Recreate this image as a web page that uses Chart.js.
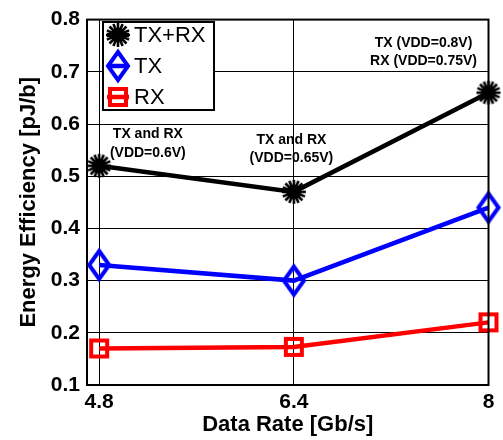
<!DOCTYPE html>
<html>
<head>
<meta charset="utf-8">
<script src="https://cdn.jsdelivr.net/npm/chart.js@4/dist/chart.umd.min.js"></script>
<style>
  html, body { margin: 0; padding: 0; background: #fff; }
  #wrap { width: 503px; height: 440px; }
</style>
</head>
<body>
<div id="wrap"><canvas id="c" width="503" height="440"></canvas></div>
<script>
// Data rates [Gb/s] and energy efficiency [pJ/b]
const dataRates = [4.8, 6.4, 8];
const txrx = [0.52, 0.47, 0.66];
const tx = [0.33, 0.30, 0.44];
const rx = [0.17, 0.173, 0.22];
const seriesNames = ['TX+RX', 'TX', 'RX'];
const xTickValues = [4.8, 6.4, 8];
const xTickLabels = ['4.8', '6.4', '8'];

// Operating-point notes: [x, y, lines]
const notes = [
  [5.2, 0.562, ['TX and RX', '(VDD=0.6V)']],
  [6.38, 0.552, ['TX and RX', '(VDD=0.65V)']],
  [7.466, 0.738, ['TX (VDD=0.8V)', 'RX (VDD=0.75V)']]
];

const FONT = '"Liberation Sans", Arial, Helvetica, sans-serif';

// Hollow / asterisk markers drawn once on small canvases
function makeStar(color) {
  const c = document.createElement('canvas');
  c.width = 28; c.height = 28;
  const g = c.getContext('2d');
  g.translate(14, 14);
  g.strokeStyle = color; g.fillStyle = color;
  g.lineWidth = 2.6; g.lineCap = 'butt';
  for (let i = 0; i < 8; i++) {
    const a = i * Math.PI / 8;
    g.beginPath();
    g.moveTo(-12 * Math.cos(a), -12 * Math.sin(a));
    g.lineTo(12 * Math.cos(a), 12 * Math.sin(a));
    g.stroke();
  }
  g.beginPath(); g.arc(0, 0, 7.5, 0, Math.PI * 2); g.fill();
  return c;
}
function makeDiamond(color) {
  const c = document.createElement('canvas');
  c.width = 28; c.height = 36;
  const g = c.getContext('2d');
  g.translate(14, 18);
  g.strokeStyle = color; g.lineWidth = 4; g.lineJoin = 'miter';
  g.beginPath();
  g.moveTo(0, -14); g.lineTo(10, 0); g.lineTo(0, 14); g.lineTo(-10, 0); g.closePath();
  g.stroke();
  return c;
}
function makeSquare(color) {
  const c = document.createElement('canvas');
  c.width = 24; c.height = 24;
  const g = c.getContext('2d');
  g.strokeStyle = color; g.lineWidth = 4;
  g.strokeRect(4, 4, 16, 16);
  return c;
}

const colors = ['#000000', '#0000ff', '#ff0000'];
const markers = [makeStar(colors[0]), makeDiamond(colors[1]), makeSquare(colors[2])];
const values = [txrx, tx, rx];

const datasets = values.map((v, i) => ({
  label: seriesNames[i],
  data: dataRates.map((x, j) => ({ x: x, y: v[j] })),
  borderColor: colors[i],
  backgroundColor: colors[i],
  borderWidth: 4.5,
  pointStyle: markers[i],
  pointRadius: 10,
  pointHoverRadius: 10,
  tension: 0,
  clip: false
}));

const framePlugin = {
  id: 'frameAndNotes',
  afterDatasetsDraw(chart) {
    const { ctx, chartArea: a, scales } = chart;
    ctx.save();
    // axes box
    ctx.strokeStyle = '#000'; ctx.lineWidth = 2;
    ctx.strokeRect(a.left, a.top, a.right - a.left, a.bottom - a.top);

    // notes
    ctx.fillStyle = '#000';
    ctx.font = 'bold 14px ' + FONT;
    ctx.textAlign = 'center'; ctx.textBaseline = 'middle';
    notes.forEach(([x, y, lines]) => {
      const px = scales.x.getPixelForValue(x);
      const py = scales.y.getPixelForValue(y);
      lines.forEach((t, k) => ctx.fillText(t, px, py + (k - (lines.length - 1) / 2) * 18.5));
    });

    // legend box
    const lx = 103, ly = 22, lw = 111, lh = 88;
    ctx.fillStyle = '#fff';
    ctx.fillRect(lx, ly, lw, lh);
    ctx.strokeStyle = '#000'; ctx.lineWidth = 2;
    ctx.strokeRect(lx, ly, lw, lh);
    const rows = [35, 66, 97];
    ctx.font = '22px ' + FONT;
    ctx.textAlign = 'left'; ctx.textBaseline = 'middle';
    rows.forEach((ry, i) => {
      ctx.strokeStyle = colors[i]; ctx.lineWidth = 4.5;
      ctx.beginPath(); ctx.moveTo(107, ry); ctx.lineTo(129, ry); ctx.stroke();
      const m = markers[i];
      ctx.drawImage(m, 118 - m.width / 2, ry - m.height / 2);
      ctx.fillStyle = '#000';
      ctx.fillText(seriesNames[i], 134, ry + 1);
    });
    ctx.restore();
  }
};

new Chart(document.getElementById('c'), {
  type: 'line',
  data: { datasets },
  plugins: [framePlugin],
  options: {
    responsive: false,
    animation: false,
    events: [],
    layout: { padding: { left: 0, top: 16, right: 14, bottom: 0 } },
    plugins: { legend: { display: false }, tooltip: { enabled: false } },
    scales: {
      x: {
        type: 'linear',
        min: 4.7, max: 8,
        afterBuildTicks(s) { s.ticks = xTickValues.map(v => ({ value: v })); },
        afterFit(s) { s.height = 55; },
        ticks: {
          color: '#000',
          font: { family: FONT, size: 21, weight: 'bold' },
          padding: 5,
          maxRotation: 0,
          callback: (v) => xTickLabels[xTickValues.indexOf(v)] ?? ''
        },
        grid: { color: '#000', lineWidth: 1, borderDash: [1, 2], drawTicks: false },
        border: { display: false },
        title: {
          display: true, text: 'Data Rate [Gb/s]', color: '#000',
          font: { family: FONT, size: 22, weight: 'bold' },
          padding: { top: 0, bottom: 2 }
        }
      },
      y: {
        min: 0.1, max: 0.8,
        afterFit(s) { s.width = 87; },
        ticks: {
          stepSize: 0.1,
          color: '#000',
          font: { family: FONT, size: 21, weight: 'bold' },
          padding: 7,
          callback: (v) => v.toFixed(1)
        },
        grid: { color: '#000', lineWidth: 1, borderDash: [1, 2], drawTicks: false },
        border: { display: false },
        title: {
          display: true, text: 'Energy Efficiency [pJ/b]', color: '#000',
          font: { family: FONT, size: 22, weight: 'bold' },
          padding: { top: 16, bottom: 0 }
        }
      }
    }
  }
});
</script>
</body>
</html>
